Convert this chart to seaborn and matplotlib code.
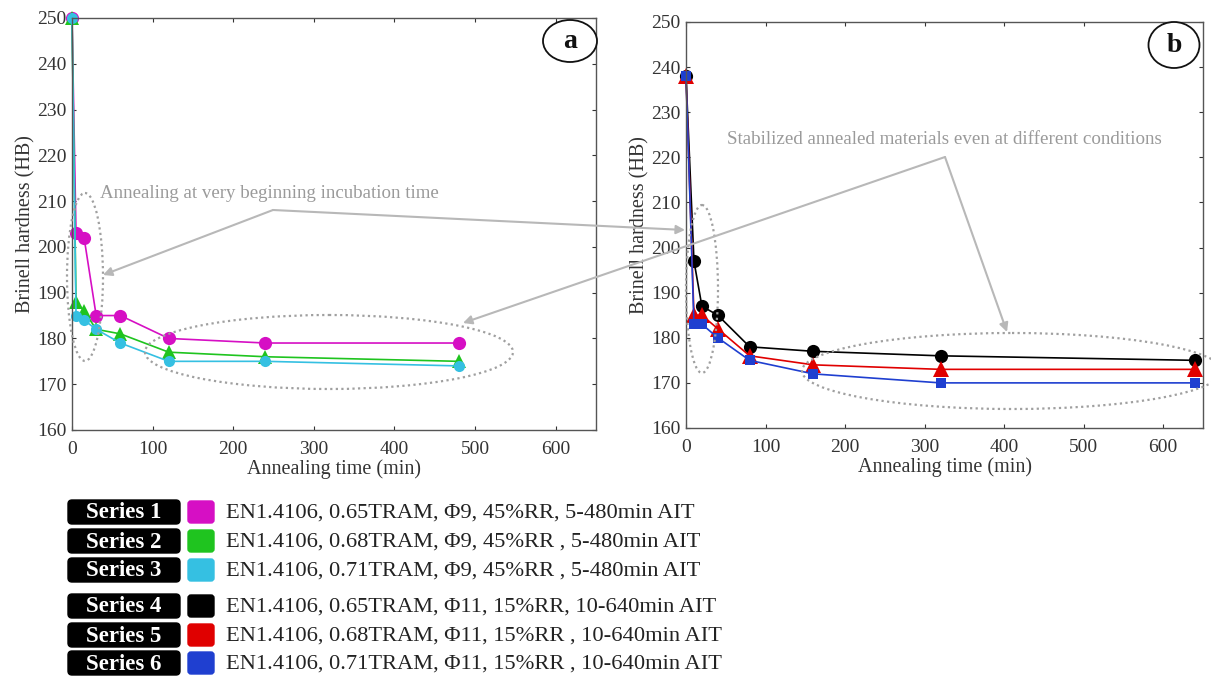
import numpy as np
import pandas as pd
import matplotlib
matplotlib.use("Agg")
import matplotlib.pyplot as plt
import seaborn as sns
from matplotlib.patches import Ellipse, FancyBboxPatch

# ---------------- data ----------------
time_a = [0, 5, 15, 30, 60, 120, 240, 480]
series1 = [250, 203, 202, 185, 185, 180, 179, 179]
series2 = [250, 188, 186, 182, 181, 177, 176, 175]
series3 = [250, 185, 184, 182, 179, 175, 175, 174]

time_b = [0, 10, 20, 40, 80, 160, 320, 640]
series4 = [238, 197, 187, 185, 178, 177, 176, 175]
series5 = [238, 185, 185, 182, 176, 174, 173, 173]
series6 = [238, 183, 183, 180, 175, 172, 170, 170]

series_names = ["Series 1", "Series 2", "Series 3", "Series 4", "Series 5", "Series 6"]
series_desc = [
    "EN1.4106, 0.65TRAM, \u03a69, 45%RR, 5-480min AIT",
    "EN1.4106, 0.68TRAM, \u03a69, 45%RR , 5-480min AIT",
    "EN1.4106, 0.71TRAM, \u03a69, 45%RR , 5-480min AIT",
    "EN1.4106, 0.65TRAM, \u03a611, 15%RR, 10-640min AIT",
    "EN1.4106, 0.68TRAM, \u03a611, 15%RR , 10-640min AIT",
    "EN1.4106, 0.71TRAM, \u03a611, 15%RR , 10-640min AIT",
]
y_ticks = [160, 170, 180, 190, 200, 210, 220, 230, 240, 250]
x_ticks = [0, 100, 200, 300, 400, 500, 600]

colors = ["#d60fc4", "#1fc41f", "#35c0e2", "#000000", "#e00000", "#1f3fd0"]
markers = ["o", "^", "o", "o", "^", "s"]
msizes = [9.5, 10, 8, 9.5, 11, 6.5]

# ---------------- style ----------------
sns.set_style("ticks")
plt.rcParams["font.family"] = ["Liberation Serif", "DejaVu Serif"]
plt.rcParams["mathtext.fontset"] = "stix"

W, H = 1211, 676
fig = plt.figure(figsize=(W / 100, H / 100), dpi=100)
fig.patch.set_facecolor("white")


def px_axes(l, t, r, b):
    return fig.add_axes([l / W, 1 - b / H, (r - l) / W, (b - t) / H])


ax_a = px_axes(72, 18, 596, 430)
ax_b = px_axes(686, 22, 1203, 428)

panels = [
    (ax_a, time_a, [series1, series2, series3], [0, 1, 2]),
    (ax_b, time_b, [series4, series5, series6], [3, 4, 5]),
]

for ax, t, sers, idxs in panels:
    for vals, i in zip(sers, idxs):
        df = pd.DataFrame({"t": t, "hb": vals})
        sns.lineplot(data=df, x="t", y="hb", ax=ax, color=colors[i],
                     marker=markers[i], markersize=msizes[i],
                     markeredgewidth=0, linewidth=1.2, legend=False,
                     clip_on=False)
    ax.set_xlim(0, 650)
    ax.set_ylim(160, 250)
    ax.set_xticks(x_ticks)
    ax.set_yticks(y_ticks)
    ax.tick_params(direction="in", length=3, width=0.8, top=True, right=True,
                   labelsize=14, colors="#333333", pad=4)
    ax.tick_params(axis="x", pad=8)
    for s in ax.spines.values():
        s.set_visible(True)
        s.set_color("#555555")
        s.set_linewidth(1.0)
    ax.set_xlabel("Annealing time (min)", fontsize=14.5, color="#333333", labelpad=1)
    ax.set_ylabel("Brinell hardness (HB)", fontsize=14.5, color="#333333", labelpad=1)
    ax.set_facecolor("white")

# ---------------- overlay for annotations / legend ----------------
ov = fig.add_axes([0, 0, 1, 1], zorder=10)
ov.set_xlim(0, W)
ov.set_ylim(H, 0)
ov.axis("off")
ov.patch.set_alpha(0)

ell_kw = dict(fill=False, edgecolor="#a0a0a0", linestyle=(0, (1, 1.5)), linewidth=1.6)
for cx, cy, w, h in [(85, 277, 36, 168), (329, 352, 368, 74),
                     (702, 289, 32, 168), (1012, 371, 420, 76)]:
    ov.add_patch(Ellipse((cx, cy), w, h, **ell_kw))

gray = "#b8b8b8"
arr_kw = dict(arrowstyle="-|>", color=gray, lw=1.5, mutation_scale=13,
              shrinkA=0, shrinkB=0)
for start, end in [((273, 210), (103, 275)), ((273, 210), (685, 230)),
                   ((945, 157), (463, 323)), ((945, 157), (1007, 332))]:
    ov.annotate("", xy=end, xytext=start, arrowprops=arr_kw)

ov.text(100, 193, "Annealing at very beginning incubation time", fontsize=13.6,
        color="#9a9a9a", va="center", ha="left")
ov.text(727, 140, "Stabilized annealed materials even at different conditions",
        fontsize=13.7, color="#9a9a9a", va="center", ha="left")

# panel letters
for cx, cy, w, h, lab in [(570, 41, 54, 42, "a"), (1174, 45, 51, 46, "b")]:
    ov.add_patch(Ellipse((cx, cy), w, h, fill=True, facecolor="white",
                         edgecolor="#111111", linewidth=1.3))
    ov.text(cx, cy + 1, lab, fontsize=20, fontweight="bold", ha="center",
            va="center", color="#111111")

# legend
rows_y = [512, 541, 570, 606, 635, 663]
for i, y in enumerate(rows_y):
    ov.add_patch(FancyBboxPatch((68, y - 12), 112, 24,
                                boxstyle="round,pad=0,rounding_size=4",
                                facecolor="black", edgecolor="black"))
    ov.text(124, y + 1, series_names[i], fontsize=16.5, fontweight="bold",
            color="white", ha="center", va="center")
    ov.add_patch(FancyBboxPatch((188, y - 11), 26, 22,
                                boxstyle="round,pad=0,rounding_size=3",
                                facecolor=colors[i], edgecolor=colors[i]))
    ov.text(226, y + 1, series_desc[i], fontsize=16.2, color="#222222",
            ha="left", va="center")

fig.savefig("out.png", dpi=100, facecolor="white")
